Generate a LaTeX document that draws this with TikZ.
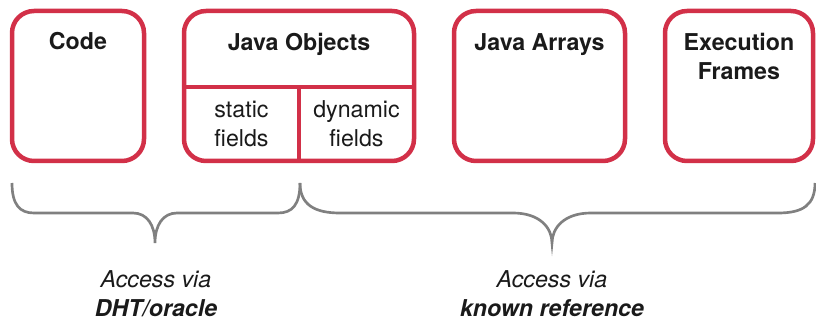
\documentclass[tikz,border=0pt]{standalone}
\usepackage{fontspec}
\setmainfont{TeX Gyre Heros}
\usepackage{xcolor}
\usepackage{tikz}
\usetikzlibrary{positioning}
\definecolor{boxred}{RGB}{210,48,72}
\definecolor{bracegray}{RGB}{128,128,128}
\definecolor{txt}{RGB}{26,26,26}

\begin{document}
\begin{tikzpicture}[x=0.025cm, y=-0.025cm,
    box/.style={draw=boxred, line width=3.2pt, rounded corners=0.55cm,
        minimum height=150*0.025cm, inner sep=0pt},
    divider/.style={draw=boxred, line width=3.2pt},
    title/.style={anchor=base, font=\fontsize{16.5}{21}\selectfont\bfseries, text=txt, align=center},
    sub/.style={anchor=base, font=\fontsize{16.5}{21}\selectfont, text=txt, align=center},
    note/.style={anchor=base, font=\fontsize{16.5}{21}\selectfont\itshape, text=txt, align=center},
    brace/.style={draw=bracegray, line width=1.9pt}]
    \useasboundingbox (0,0) rectangle (816,320);

    % Boxes: name / x-center / width
    \foreach \nm/\cx/\w in {
        code/78/132,
        jobj/299/230,
        jarr/539.5/171,
        frames/739/148
    } {
        \node[box, minimum width=\w*0.025cm] (\nm) at (\cx,86) {};
    }

    % Titles (base = baseline of the last line)
    \node[title] (codeT) at (78,50) {Code};
    \node[title] (jobjT) at (299,51) {Java Objects};
    \node[title] (jarrT) at (539.5,51) {Java Arrays};
    \node[title] (framesT) at (739,80) {Execution\\Frames};

    % Split of the Java Objects box
    \coordinate (split) at (299,87);
    \draw[divider] (jobj.west |- split) -- (jobj.east |- split);
    \draw[divider] (split) -- (split |- jobj.south);
    \node[sub] (static) at (241.5,147) {static\\fields};
    \node[sub] (dynamic) at (356.5,147) {dynamic\\fields};

    % Braces
    \draw[brace] (12,183) .. controls (12,205) and (20,213) .. (34,213) -- (133,213)
        .. controls (147,213) and (155,225) .. (155,243)
        .. controls (155,225) and (163,213) .. (177,213) -- (278,213)
        .. controls (292,213) and (300,205) .. (300,183);
    \draw[brace] (300,183) .. controls (300,205) and (315,213) .. (340,213) -- (513,213)
        .. controls (540,213) and (552,228) .. (552,243)
        .. controls (552,228) and (564,213) .. (591,213) -- (778,213)
        .. controls (803,213) and (815,205) .. (815,183);

    % Labels under the braces
    \node[note] (dht) at (156,317) {Access via\\\textbf{DHT/oracle}};
    \node[note] (known) at (552,317) {Access via\\\textbf{known reference}};
\end{tikzpicture}
\end{document}
